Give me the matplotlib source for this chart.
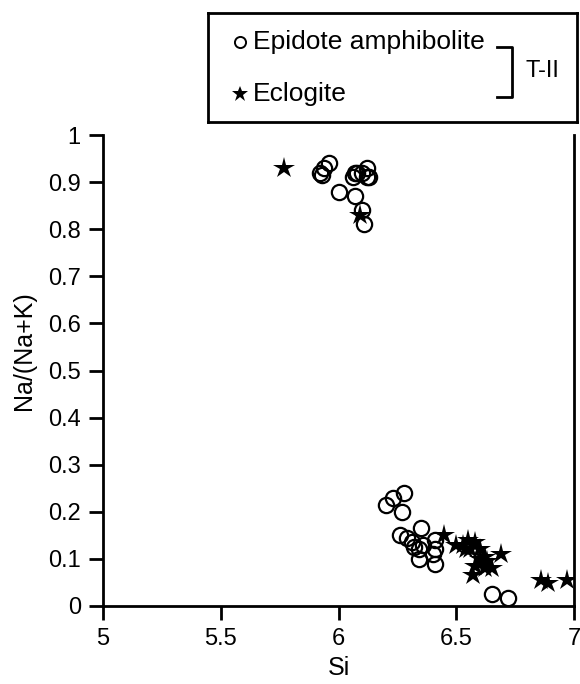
import matplotlib
matplotlib.use("Agg")
from matplotlib import pyplot as plt

plt.rcParams["font.family"] = ["Liberation Sans", "DejaVu Sans"]

# Epidote amphibolite (open circles)
epi_si = [5.92, 5.93, 5.94, 5.96, 6.00, 6.06, 6.07, 6.08, 6.10, 6.12, 6.12, 6.13,
          6.07, 6.10, 6.11,
          6.20, 6.23, 6.28, 6.27, 6.35, 6.26, 6.29, 6.31, 6.32, 6.34, 6.34,
          6.36, 6.41, 6.41, 6.40, 6.41, 6.65, 6.72]
epi_na = [0.92, 0.915, 0.93, 0.94, 0.88, 0.91, 0.92, 0.92, 0.92, 0.93, 0.91, 0.91,
          0.87, 0.84, 0.81,
          0.215, 0.23, 0.24, 0.20, 0.165, 0.15, 0.145, 0.135, 0.125, 0.12, 0.10,
          0.13, 0.14, 0.12, 0.11, 0.09, 0.025, 0.017]

# Eclogite (stars)
ecl_si = [5.77, 6.09,
          6.45, 6.50, 6.53, 6.55, 6.58, 6.56, 6.60, 6.62, 6.63, 6.65, 6.58,
          6.57, 6.69, 6.54, 6.60, 6.62, 6.86, 6.89, 6.97]
ecl_na = [0.93, 0.83,
          0.15, 0.13, 0.13, 0.14, 0.135, 0.12, 0.12, 0.105, 0.095, 0.08, 0.085,
          0.065, 0.11, 0.12, 0.10, 0.08, 0.055, 0.048, 0.055]

x_ticks = [5, 5.5, 6, 6.5, 7]
x_labels = ["5", "5.5", "6", "6.5", "7"]
y_ticks = [0, 0.1, 0.2, 0.3, 0.4, 0.5, 0.6, 0.7, 0.8, 0.9, 1]
y_labels = ["0", "0.1", "0.2", "0.3", "0.4", "0.5", "0.6", "0.7", "0.8", "0.9", "1"]

W, H = 580, 684
fig = plt.figure(figsize=(W / 100, H / 100), dpi=100)

ax = fig.add_axes([103 / W, 1 - 606 / H, 471 / W, 471 / H])
ax.plot(epi_si, epi_na, linestyle="none", marker="o", markersize=11,
        markerfacecolor="none", markeredgecolor="black", markeredgewidth=1.6)
ax.plot(ecl_si, ecl_na, linestyle="none", marker="*", markersize=16,
        color="black", markeredgewidth=0)
ax.set_xlim(5, 7)
ax.set_ylim(0, 1)
ax.set_xticks(x_ticks, x_labels)
ax.set_yticks(y_ticks, y_labels)
ax.spines["top"].set_visible(False)
for s in ["left", "bottom", "right"]:
    ax.spines[s].set_linewidth(2)
ax.tick_params(direction="out", length=10, width=2, labelsize=17, pad=6)
ax.set_xlabel("Si", fontsize=18, labelpad=4)
ax.set_ylabel("Na/(Na+K)", fontsize=18)
ax.yaxis.set_label_coords(-0.142, 0.543)

# legend box, drawn in pixel units
lg = fig.add_axes([208 / W, 1 - 122 / H, 369 / W, 109 / H])
lg.set_xlim(208, 577)
lg.set_ylim(122, 13)
lg.set_xticks([])
lg.set_yticks([])
for s in lg.spines.values():
    s.set_linewidth(2)
lg.plot([240], [42], marker="o", markersize=8, markerfacecolor="none",
        markeredgecolor="black", markeredgewidth=1.4)
lg.plot([240], [94], marker="*", markersize=12, color="black", markeredgewidth=0)
lg.text(253, 42, "Epidote amphibolite", fontsize=19, va="center", ha="left")
lg.text(253, 94, "Eclogite", fontsize=19, va="center", ha="left")
lg.plot([497, 512, 512, 497], [47, 47, 97, 97], color="black", linewidth=2)
lg.text(525, 71, "T-II", fontsize=17, va="center", ha="left")

fig.savefig("out.png", dpi=100)
